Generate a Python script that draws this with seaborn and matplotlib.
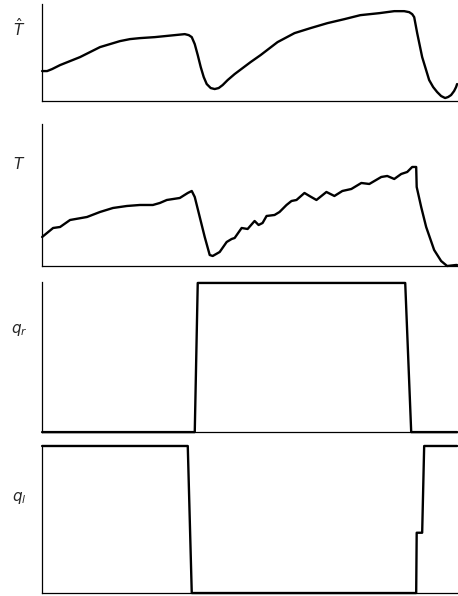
import numpy as np
import pandas as pd
import seaborn as sns
import matplotlib.pyplot as plt

# time axis in arbitrary units (0..416)
t_hat = [0, 5, 10, 18, 28, 38, 48, 58, 68, 78, 88, 98, 113, 123, 133, 143, 147, 150,
         153, 156, 159, 162, 165, 169, 173, 177, 181, 186, 193, 201, 209, 219, 236,
         253, 269, 286, 303, 319, 338, 353, 363, 368, 371, 373, 376, 381, 388, 392,
         396, 400, 404, 407, 410, 413, 415, 416]
T_hat = [30, 30, 32, 36, 40, 44, 49, 54, 57, 60, 62, 63, 64, 65, 66, 67, 66, 64,
         57, 46, 34, 24, 17, 13, 12, 13, 16, 21, 27, 33, 39, 46, 59,
         68, 73, 78, 82, 86, 88, 90, 90, 89, 87, 84, 68, 44, 21, 14,
         9, 5, 3, 4, 6, 10, 14, 17]

t_T = [0, 11, 18, 28, 45, 58, 71, 85, 98, 111, 118, 125, 138, 146, 150, 153, 158,
       163, 168, 171, 178, 185, 190, 193, 200, 206, 213, 217, 221, 225, 233, 238,
       245, 250, 255, 263, 268, 275, 285, 293, 301, 310, 320, 328, 340, 346, 353,
       360, 366, 371, 375, 375.5, 380, 385, 393, 400, 406, 415, 416]
T_val = [29, 38, 39, 46, 49, 54, 58, 60, 61, 61, 63, 66, 68, 73, 75, 69, 49,
         29, 11, 10, 14, 24, 27, 28, 38, 37, 45, 41, 43, 50, 51, 54,
         61, 65, 66, 73, 70, 66, 74, 70, 75, 77, 83, 82, 89, 90, 87,
         92, 94, 99, 99, 79, 59, 39, 16, 5, 0, 1, 1]

t_qr = [0, 153, 156, 364, 370, 416]
q_r = [0, 0, 1, 1, 0, 0]

t_ql = [0, 146, 150, 375, 375.5, 381, 383, 416]
q_l = [1, 1, 0, 0, 0.41, 0.41, 1, 1]

labels = [r'$\hat{T}$', r'$T$', r'$q_r$', r'$q_l$']

sns.set_style("white")

fig = plt.figure(figsize=(4.58, 5.96), dpi=100)

# axes rectangles: (bottom, top) in figure fractions
rows = [(0.8305, 0.993), (0.5537, 0.792), (0.275, 0.527), (0.005, 0.2517)]
ylims = [(0, 97), (0, 142), (0, 1.007), (0, 1.0)]
series = [(t_hat, T_hat), (t_T, T_val), (t_qr, q_r), (t_ql, q_l)]
label_y = [28, 164, 330, 498]

for (b, tp), yl, (x, y), lab, ly in zip(rows, ylims, series, labels, label_y):
    ax = fig.add_axes([0.092, b, 0.906, tp - b])
    df = pd.DataFrame({"t": x, "v": y})
    sns.lineplot(data=df, x="t", y="v", estimator=None, sort=False,
                 color="black", linewidth=1.7, ax=ax)
    for ln in ax.lines:
        ln.set_clip_on(False)
        ln.set_solid_joinstyle("round")
        ln.set_solid_capstyle("round")
    ax.set_xlim(0, 416)
    ax.set_ylim(*yl)
    ax.set_xticks([])
    ax.set_yticks([])
    ax.set_xlabel("")
    ax.set_ylabel("")
    for s in ["top", "right"]:
        ax.spines[s].set_visible(False)
    for s in ["left", "bottom"]:
        ax.spines[s].set_color("black")
        ax.spines[s].set_linewidth(0.9)
    fig.text(19 / 458, 1 - ly / 596, lab, ha="center", va="center", fontsize=11)

fig.savefig("out.png", dpi=100)
